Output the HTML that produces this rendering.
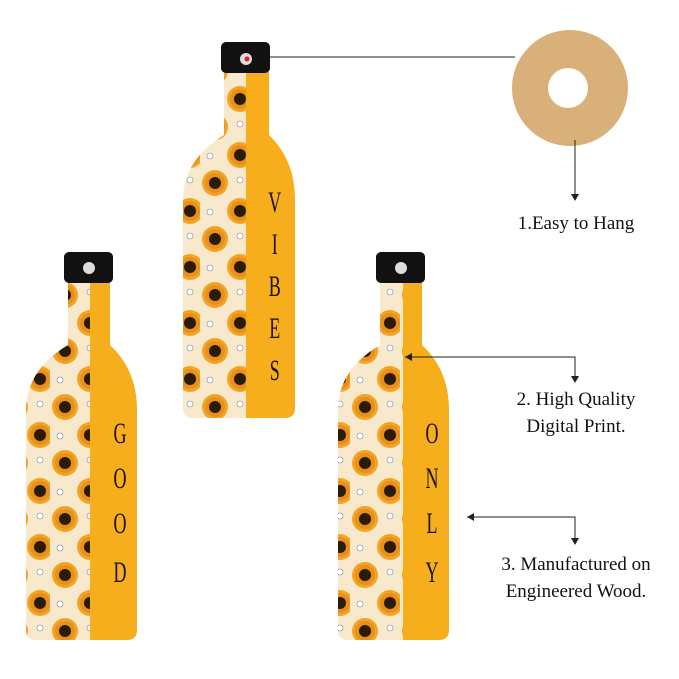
<!DOCTYPE html>
<html><head><style>
body{margin:0;background:#fff;}
svg{display:block;}
text{font-family:"Liberation Serif",serif;}
</style></head><body>
<svg width="679" height="679" viewBox="0 0 679 679" xmlns="http://www.w3.org/2000/svg">
<defs>
<pattern id="fl" width="50" height="56" patternUnits="userSpaceOnUse">
<rect width="50" height="56" fill="#f8e9cc"/>
<circle cx="15" cy="15" r="13" fill="#f2a424"/>
<circle cx="15" cy="15" r="10" fill="#e9901a"/>
<circle cx="15" cy="15" r="6" fill="#2a1a08"/>
<circle cx="40" cy="43" r="13" fill="#f2a424"/>
<circle cx="40" cy="43" r="10" fill="#e9901a"/>
<circle cx="40" cy="43" r="6" fill="#2a1a08"/>
<circle cx="40" cy="12" r="3" fill="#fff" stroke="#889" stroke-width="0.6"/>
<circle cx="10" cy="44" r="3" fill="#fff" stroke="#889" stroke-width="0.6"/>
</pattern>
<clipPath id="b1"><path d="M224,72 L269,72 L269,135 Q295,160 295,200 L295,408 Q295,418 285,418 L193,418 Q183,418 183,408 L183,200 Q183,160 224,135 Z"/></clipPath>
<clipPath id="b2"><path d="M68,282 L110,282 L110,345 Q137,370 137,410 L137,630 Q137,640 127,640 L36,640 Q26,640 26,630 L26,410 Q26,370 68,345 Z"/></clipPath>
<clipPath id="b3"><path d="M380,282 L422,282 L422,345 Q449,370 449,410 L449,630 Q449,640 439,640 L348,640 Q338,640 338,630 L338,410 Q338,370 380,345 Z"/></clipPath>
</defs>

<g clip-path="url(#b1)">
<rect x="180" y="60" width="66" height="370" fill="url(#fl)"/>
<rect x="246" y="60" width="60" height="370" fill="#f7ae1c"/>
</g>
<rect x="221" y="42" width="49" height="31" rx="5" fill="#111"/>
<circle cx="246" cy="59" r="6" fill="#ddd"/><circle cx="247" cy="59" r="2.5" fill="#d22"/>

<g clip-path="url(#b2)">
<rect x="20" y="270" width="70" height="380" fill="url(#fl)"/>
<rect x="90" y="270" width="60" height="380" fill="#f7ae1c"/>
</g>
<rect x="64" y="252" width="49" height="31" rx="5" fill="#111"/>
<circle cx="89" cy="268" r="6" fill="#ddd"/>

<g clip-path="url(#b3)">
<rect x="330" y="270" width="73" height="380" fill="url(#fl)"/>
<rect x="403" y="270" width="60" height="380" fill="#f7ae1c"/>
</g>
<rect x="376" y="252" width="49" height="31" rx="5" fill="#111"/>
<circle cx="401" cy="268" r="6" fill="#ddd"/>

<g font-family="Liberation Sans,sans-serif" font-size="30" fill="#1a1208" text-anchor="middle">
<g transform="scale(0.6,1)">
<text x="458" y="212">V</text><text x="458" y="254">I</text><text x="458" y="296">B</text><text x="458" y="338">E</text><text x="458" y="380">S</text>
<text x="200" y="443">G</text><text x="200" y="488">O</text><text x="200" y="533">O</text><text x="200" y="582">D</text>
<text x="720" y="443">O</text><text x="720" y="488">N</text><text x="720" y="533">L</text><text x="720" y="582">Y</text>
</g></g>

<circle cx="570" cy="88" r="58" fill="#d9b07a"/>
<circle cx="568" cy="88" r="20" fill="#fff"/>

<g stroke="#222" stroke-width="1" fill="none">
<path d="M270,57 H515"/>
<path d="M575,140 V196"/>
<path d="M405,357 H575 V378"/>
<path d="M467,517 H575 V540"/>
</g>
<g fill="#222">
<path d="M571,194 L579,194 L575,201 Z"/>
<path d="M571,376 L579,376 L575,383 Z"/>
<path d="M571,538 L579,538 L575,545 Z"/>
<path d="M405,357 L412,353 L412,361 Z"/>
<path d="M467,517 L474,513 L474,521 Z"/>
</g>

<g font-size="19" fill="#111" text-anchor="middle">
<text x="576" y="229">1.Easy to Hang</text>
<text x="576" y="405">2. High Quality</text>
<text x="576" y="432">Digital Print.</text>
<text x="576" y="570">3. Manufactured on</text>
<text x="576" y="597">Engineered Wood.</text>
</g>
</svg>
</body></html>
